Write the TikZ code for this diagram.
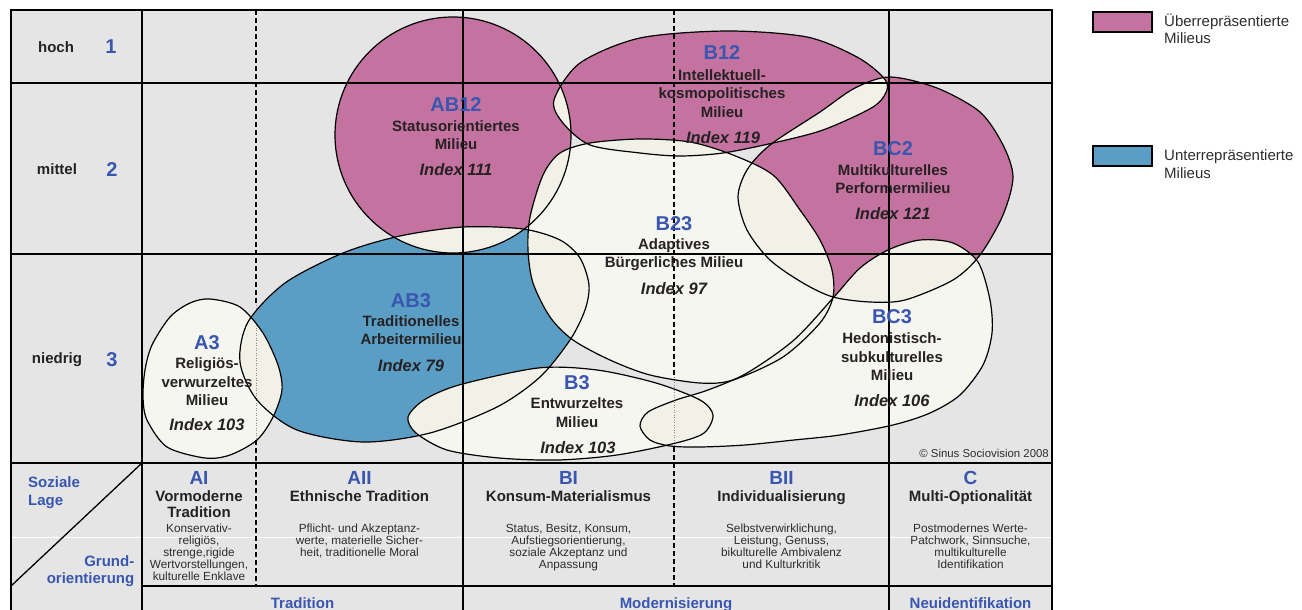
\documentclass[tikz,border=0pt]{standalone}
\usepackage{fontspec}
\setmainfont{Liberation Sans}
\definecolor{bggrey}{RGB}{229,229,229}
\definecolor{pinkm}{RGB}{196,114,160}
\definecolor{bluem}{RGB}{91,158,197}
\definecolor{creamm}{RGB}{246,246,241}
\definecolor{overm}{RGB}{241,241,232}
\definecolor{labblue}{RGB}{57,86,176}
\definecolor{txt}{RGB}{38,34,35}
\definecolor{desctxt}{RGB}{45,45,45}
\def\pAB{(453,135) circle [radius=118]}
\def\pBtw{plot[smooth cycle] coordinates {(554,100) (580,63) (640,38) (727,31) (807,37) (857,57) (883,77) (887,90) (873,107) (823,130) (773,143) (723,153) (680,156) (640,153) (590,145) (563,123)}}
\def\pBC{plot[smooth cycle] coordinates {(890,77) (937,88) (980,112) (1003,145) (1013,177) (1003,215) (980,255) (953,280) (905,300) (870,302) (833,297) (803,283) (770,260) (747,230) (738,197) (747,170) (770,145) (820,112) (855,88)}}
\def\pBtt{plot[smooth cycle] coordinates {(640,139) (690,142) (733,155) (773,175) (800,210) (820,240) (832,270) (833,297) (820,323) (783,357) (733,380) (700,383) (650,375) (610,360) (573,340) (550,317) (533,283) (528,250) (530,217) (543,175) (560,153) (590,143)}}
\def\pAT{plot[smooth cycle] coordinates {(463,227) (523,229) (560,240) (580,258) (589,285) (585,310) (570,340) (540,377) (497,407) (430,433) (363,442) (297,430) (257,400) (240,362) (248,322) (285,283) (343,253) (400,236)}}
\def\pA{plot[smooth cycle] coordinates {(210,299) (240,307) (263,333) (278,365) (282,390) (273,417) (257,440) (230,455) (205,458) (167,447) (147,420) (143,397) (145,370) (152,345) (170,317) (190,303)}}
\def\pB{plot[smooth cycle] coordinates {(408,417) (424,400) (459,385) (538,368) (597,370) (656,383) (700,400) (713,415) (704,433) (676,443) (617,455) (558,460) (499,458) (447,450) (416,433)}}
\def\pBCt{plot[smooth cycle] coordinates {(920,240) (953,243) (978,262) (990,300) (992,333) (983,365) (960,395) (930,413) (893,425) (840,435) (794,440) (745,445) (700,447) (670,446) (650,440) (640,426) (648,412) (676,400) (708,390) (747,373) (794,340) (834,297) (860,268) (888,250)}}
\newcommand\ovl[2]{\begin{scope}\clip #1; \fill[overm] #2;\end{scope}}
\tikzset{
  outl/.style={draw=black, line width=1.2pt},
  gridl/.style={draw=black, line width=1.5pt},
  dashl/.style={draw=black, line width=1.3pt, dash pattern=on 5pt off 3pt},
  faintl/.style={draw=black!45, line width=0.5pt, dotted},
  code/.style={text=labblue, font=\bfseries\fontsize{20}{20}\selectfont, inner sep=0pt, anchor=base},
  nm/.style={text=txt, font=\bfseries\fontsize{15}{15}\selectfont, inner sep=0pt, anchor=base},
  idx/.style={text=txt, font=\bfseries\itshape\fontsize{16.5}{16.5}\selectfont, inner sep=0pt, anchor=base},
  colcode/.style={text=labblue, font=\bfseries\fontsize{19}{19}\selectfont, inner sep=0pt, anchor=base},
  desc/.style={text=desctxt, font=\fontsize{11.8}{11.8}\selectfont, inner sep=0pt, anchor=base},
  bluel/.style={text=labblue, font=\bfseries\fontsize{15}{15}\selectfont, inner sep=0pt, anchor=base},
  legt/.style={text=desctxt, font=\fontsize{15}{15}\selectfont, inner sep=0pt, anchor=base west},
}
\begin{document}
\begin{tikzpicture}[x=1pt,y=-1pt]
\useasboundingbox (0,0) rectangle (1302,610);
\fill[bggrey] (11,10) rectangle (1052,610);
% coloured milieus
\fill[pinkm] \pAB;
\fill[pinkm] \pBtw;
\fill[pinkm] \pBC;
\fill[bluem] \pAT;
\fill[creamm] \pA;
\fill[creamm] \pBtt;
\fill[creamm] \pB;
\fill[creamm] \pBCt;
% overlaps
\ovl{\pAB}{\pBtw}
\ovl{\pAB}{\pBtt}
\ovl{\pAB}{\pAT}
\ovl{\pBtw}{\pBtt}
\ovl{\pBtw}{\pBC}
\ovl{\pBC}{\pBtt}
\ovl{\pBC}{\pBCt}
\ovl{\pBtt}{\pAT}
\ovl{\pBtt}{\pBCt}
\ovl{\pBtt}{\pB}
\ovl{\pAT}{\pA}
\ovl{\pAT}{\pB}
\ovl{\pB}{\pBCt}
% artefact line
\draw[white, line width=0.7pt] (11,537) -- (1052,537);
% grid
\draw[gridl] (11,610) -- (11,10) -- (1052,10) -- (1052,610);
\draw[gridl] (142,10) -- (142,610);
\draw[gridl] (463,10) -- (463,610);
\draw[gridl] (889,10) -- (889,610);
\draw[gridl] (11,83) -- (1052,83);
\draw[gridl] (11,254) -- (1052,254);
\draw[gridl] (11,463) -- (1052,463);
\draw[gridl] (142,586) -- (1052,586);
\draw[line width=1.3pt] (11,586) -- (142,463);
\draw[dashl] (256,10) -- (256,305);
\draw[faintl] (256,305) -- (256,440);
\draw[dashl] (256,440) -- (256,586);
\draw[dashl] (674,10) -- (674,377);
\draw[faintl] (674,377) -- (674,447);
\draw[dashl] (674,447) -- (674,586);
% outlines
\draw[outl] \pAB;
\draw[outl] \pBtw;
\draw[outl] \pBC;
\draw[outl] \pAT;
\draw[outl] \pA;
\draw[outl] \pBtt;
\draw[outl] \pB;
\draw[outl] \pBCt;
% axis labels
\node[nm] (hoch) at (56,52.5) {hoch};
\node[code] (n1) at (111,54) {1};
\node[nm] (mittel) at (57,174.8) {mittel};
\node[code] (n2) at (112,176.5) {2};
\node[nm] (niedrig) at (57,363.5) {niedrig};
\node[code] (n3) at (112,366.5) {3};
% milieu labels
\node[code] (cAB12) at (456,111) {AB12};
\node[nm] (tAB12a) at (456,131.3) {Statusorientiertes};
\node[nm] (tAB12b) at (456,149.4) {Milieu};
\node[idx] (iAB12) at (456,175.5) {Index 111};
\node[code] (cB12) at (722,60) {B12};
\node[nm] (tB12a) at (722,80.4) {Intellektuell-};
\node[nm] (tB12b) at (722,98.6) {kosmopolitisches};
\node[nm] (tB12c) at (722,117.4) {Milieu};
\node[idx] (iB12) at (723,143) {Index 119};
\node[code] (cBC2) at (893,155) {BC2};
\node[nm] (tBC2a) at (893,175.4) {Multikulturelles};
\node[nm] (tBC2b) at (893,193.4) {Performermilieu};
\node[idx] (iBC2) at (893,219) {Index 121};
\node[code] (cB23) at (674,230) {B23};
\node[nm] (tB23a) at (674,249.4) {Adaptives};
\node[nm] (tB23b) at (674,267.4) {Bürgerliches Milieu};
\node[idx] (iB23) at (674,294) {Index 97};
\node[code] (cAB3) at (411,307) {AB3};
\node[nm] (tAB3a) at (411,326.4) {Traditionelles};
\node[nm] (tAB3b) at (411,344.4) {Arbeitermilieu};
\node[idx] (iAB3) at (411,371) {Index 79};
\node[code] (cA3) at (207,349) {A3};
\node[nm] (tA3a) at (207,368.4) {Religiös-};
\node[nm] (tA3b) at (207,387.4) {verwurzeltes};
\node[nm] (tA3c) at (207,405.4) {Milieu};
\node[idx] (iA3) at (207,430) {Index 103};
\node[code] (cB3) at (577,389) {B3};
\node[nm] (tB3a) at (577,408.4) {Entwurzeltes};
\node[nm] (tB3b) at (577,427.4) {Milieu};
\node[idx] (iB3) at (578,453) {Index 103};
\node[code] (cBC3) at (892,323) {BC3};
\node[nm] (tBC3a) at (892,343.4) {Hedonistisch-};
\node[nm] (tBC3b) at (892,362.4) {subkulturelles};
\node[nm] (tBC3c) at (892,380.4) {Milieu};
\node[idx] (iBC3) at (892,406) {Index 106};
\node[text=desctxt, font=\fontsize{11.4}{11.4}\selectfont, inner sep=0pt, anchor=base east] (copy) at (1049,457) {© Sinus Sociovision 2008};
% lower left cell
\node[bluel, anchor=base west] (soz1) at (28,487.5) {Soziale};
\node[bluel, anchor=base west] (soz2) at (28,505.5) {Lage};
\node[bluel, anchor=base east] (gr1) at (134.5,566.5) {Grund-};
\node[bluel, anchor=base east] (gr2) at (134.5,583.5) {orientierung};
% columns
\node[colcode] (cAI) at (199,484) {AI};
\node[nm] (hAIa) at (199,501) {Vormoderne};
\node[nm] (hAIb) at (199,517) {Tradition};
\foreach \t [count=\i] in {Konservativ-, religiös{,}, strenge{,}rigide, Wertvorstellungen{,}, kulturelle Enklave}
  \node[desc, name=dAI\i] at (199,532.3+12.15*\i-12.15) {\t};
\node[colcode] (cAII) at (359.5,484) {AII};
\node[nm] (hAII) at (359.5,501) {Ethnische Tradition};
\foreach \t [count=\i] in {Pflicht- und Akzeptanz-, werte{,} materielle Sicher-, heit{,} traditionelle Moral}
  \node[desc, name=dAII\i] at (359.5,532.3+12.15*\i-12.15) {\t};
\node[colcode] (cBI) at (568.5,484) {BI};
\node[nm] (hBI) at (568.5,501) {Konsum-Materialismus};
\foreach \t [count=\i] in {Status{,} Besitz{,} Konsum{,}, Aufstiegsorientierung{,}, soziale Akzeptanz und, Anpassung}
  \node[desc, name=dBI\i] at (568.5,532.3+12.15*\i-12.15) {\t};
\node[colcode] (cBII) at (781.5,484) {BII};
\node[nm] (hBII) at (781.5,501) {Individualisierung};
\foreach \t [count=\i] in {Selbstverwirklichung{,}, Leistung{,} Genuss{,}, bikulturelle Ambivalenz, und Kulturkritik}
  \node[desc, name=dBII\i] at (781.5,532.3+12.15*\i-12.15) {\t};
\node[colcode] (cC) at (970.5,484) {C};
\node[nm] (hC) at (970.5,501) {Multi-Optionalität};
\foreach \t [count=\i] in {Postmodernes Werte-, Patchwork{,} Sinnsuche{,}, multikulturelle, Identifikation}
  \node[desc, name=dC\i] at (970.5,532.3+12.15*\i-12.15) {\t};
% bottom row
\node[bluel] (trad) at (302.5,608) {Tradition};
\node[bluel] (mod) at (676,608) {Modernisierung};
\node[bluel] (neu) at (970.5,608) {Neuidentifikation};
% legend
\draw[fill=pinkm, line width=1.2pt] (1093,12) rectangle (1152,32);
\node[legt] (leg1a) at (1164,27) {Überrepräsentierte};
\node[legt] (leg1b) at (1164,44) {Milieus};
\draw[fill=bluem, line width=1.2pt] (1093,146) rectangle (1152,166);
\node[legt] (leg2a) at (1164,160.7) {Unterrepräsentierte};
\node[legt] (leg2b) at (1164,178) {Milieus};
\end{tikzpicture}
\end{document}
